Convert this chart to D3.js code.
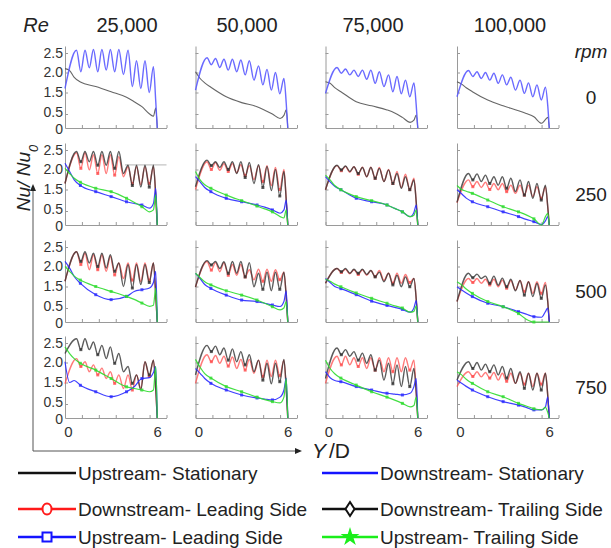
<!DOCTYPE html>
<html><head><meta charset="utf-8">
<script src="https://cdn.jsdelivr.net/npm/d3@7"></script>
<style>body{margin:0;background:#fff}svg{display:block;font-family:"Liberation Sans",Arial,sans-serif}</style>
</head><body>
<script>
// ---------- labels ----------
const reLabels = ["25,000", "50,000", "75,000", "100,000"];
const rpmLabels = ["0", "250", "500", "750"];
const yTickValues = [0, 0.5, 1.5, 2.0, 2.5];
const xTickValues = [0, 1.1, 2.2, 3.3, 4.4, 5.5, 6.6];
const xLabelValues = [0, 6];
const legendLabels = ["Upstream- Stationary", "Downstream- Stationary", "Downstream- Leading Side",
  "Downstream- Trailing Side", "Upstream- Leading Side", "Upstream- Trailing Side"];

// ---------- x positions (Y/D) ----------
// rib-roughened (wavy) series: start, 10 peaks with troughs between, drop at the end
const ribX = [0, 0.75, 1.03, 1.3, 1.58, 1.85, 2.13, 2.4, 2.68, 2.95, 3.23, 3.5, 3.8, 4.1, 4.38, 4.65, 4.93, 5.2, 5.48, 5.75, 5.9, 6.0];
// smooth series
const smoothX = [0, 0.3, 0.6, 1, 2, 3, 4, 4.5, 5, 5.5, 5.75, 5.9, 6.0];

// ---------- rpm 0 ----------  (one array per Re column)
const upStationary = [
  [2.1, 2.05, 1.88, 1.76, 1.65, 1.52, 1.28, 1.07, 0.84, 0.5, 0.42, 0.78, 0],
  [2.02, 1.85, 1.74, 1.63, 1.3, 1.03, 0.84, 0.68, 0.5, 0.34, 0.45, 0.69, 0],
  [1.77, 1.73, 1.62, 1.52, 1.07, 0.88, 0.69, 0.55, 0.38, 0.2, 0.28, 0.46, 0],
  [1.77, 1.71, 1.62, 1.52, 1.15, 0.88, 0.65, 0.52, 0.4, 0.17, 0.3, 0.38, 0]
];
const downStationary = [
  [1.6, 2.58, 2.02, 2.58, 2.12, 2.6, 2.02, 2.6, 2.06, 2.6, 2.02, 2.6, 1.95, 2.58, 1.65, 2.3, 1.6, 2.3, 1.5, 2.15, 1.1, 0],
  [1.56, 2.38, 2.2, 2.36, 2.13, 2.34, 2.06, 2.34, 2.02, 2.32, 1.94, 2.3, 1.81, 2.17, 1.69, 2.08, 1.56, 2.0, 1.44, 1.85, 1.0, 0],
  [1.46, 2.13, 1.98, 2.09, 1.94, 2.06, 1.9, 2.06, 1.83, 2.06, 1.73, 2.02, 1.65, 1.94, 1.52, 1.9, 1.44, 1.81, 1.3, 1.74, 0.9, 0],
  [1.3, 2.05, 1.9, 2.02, 1.85, 2.0, 1.81, 1.98, 1.73, 1.94, 1.69, 1.88, 1.56, 1.81, 1.46, 1.74, 1.3, 1.69, 1.15, 1.63, 0.9, 0]
];

// ---------- rpm 250 ----------
const downLead250 = [
  [1.65, 2.43, 2.03, 2.43, 1.99, 2.38, 1.9, 2.38, 1.9, 2.38, 1.86, 2.33, 1.82, 2.07, 1.65, 2.07, 1.62, 2.07, 1.65, 2.07, 1.2, 0],
  [1.5, 2.2, 2.0, 2.18, 1.98, 2.15, 1.95, 2.15, 1.92, 2.12, 1.85, 2.1, 1.75, 2.1, 1.7, 2.1, 1.6, 2.05, 1.5, 2.0, 1.0, 0],
  [1.49, 2.1, 1.97, 2.08, 1.93, 2.07, 1.88, 2.06, 1.82, 2.06, 1.78, 2.05, 1.7, 2.0, 1.65, 1.95, 1.55, 1.88, 1.5, 1.78, 0.9, 0],
  [0.88, 1.74, 1.57, 1.7, 1.55, 1.68, 1.5, 1.65, 1.49, 1.65, 1.4, 1.61, 1.32, 1.61, 1.24, 1.61, 1.17, 1.57, 1.09, 1.57, 0.7, 0]
];
const downTrail250 = [
  [1.65, 2.46, 2.2, 2.46, 2.2, 2.46, 2.11, 2.46, 2.11, 2.46, 2.03, 2.46, 1.9, 2.11, 1.6, 2.11, 1.56, 2.11, 1.56, 2.11, 1.2, 0],
  [1.57, 2.24, 2.1, 2.2, 2.05, 2.2, 2.0, 2.2, 1.9, 2.2, 1.8, 2.18, 1.65, 2.12, 1.55, 2.08, 1.45, 2.0, 1.2, 1.95, 1.0, 0],
  [1.49, 2.11, 1.99, 2.09, 1.95, 2.07, 1.9, 2.05, 1.82, 2.05, 1.78, 2.03, 1.7, 1.99, 1.65, 1.9, 1.53, 1.82, 1.49, 1.74, 0.9, 0],
  [0.9, 1.9, 1.74, 1.89, 1.7, 1.86, 1.65, 1.82, 1.61, 1.82, 1.53, 1.78, 1.4, 1.74, 1.24, 1.7, 1.09, 1.65, 1.01, 1.61, 0.7, 0]
];
const upLead250 = [
  [2.16, 1.95, 1.74, 1.6, 1.4, 1.17, 0.93, 0.85, 0.78, 0.63, 0.85, 1.53, 0],
  [1.82, 1.69, 1.55, 1.4, 1.09, 0.93, 0.78, 0.68, 0.55, 0.42, 0.55, 1.01, 0],
  [1.82, 1.69, 1.58, 1.49, 1.09, 0.93, 0.78, 0.62, 0.47, 0.3, 0.45, 0.78, 0],
  [1.49, 1.3, 1.1, 0.93, 0.7, 0.47, 0.3, 0.2, 0.12, 0.02, 0.15, 0.3, 0]
];
const upTrail250 = [
  [2.03, 1.9, 1.78, 1.68, 1.53, 1.4, 1.09, 0.9, 0.7, 0.47, 0.55, 1.25, 0],
  [1.95, 1.74, 1.62, 1.53, 1.24, 0.98, 0.73, 0.6, 0.47, 0.3, 0.25, 0.55, 0],
  [1.86, 1.74, 1.6, 1.49, 1.17, 0.98, 0.78, 0.62, 0.47, 0.3, 0.35, 0.55, 0],
  [1.6, 1.5, 1.42, 1.32, 1.01, 0.7, 0.47, 0.36, 0.22, 0.0, 0.3, 0.42, 0]
];
// stray grid fragment visible in the 25,000 / 250 rpm panel of the source figure
const gridFragment250 = {from: 3.9, to: 6.6, level: 2.12};

// ---------- rpm 500 ----------
const downLead500 = [
  [1.63, 2.38, 2.05, 2.34, 1.92, 2.3, 1.92, 2.3, 1.88, 2.26, 1.79, 2.09, 1.7, 2.09, 1.66, 2.09, 1.62, 2.09, 1.66, 2.09, 1.1, 0],
  [1.48, 2.13, 1.91, 2.1, 1.87, 2.1, 1.78, 2.05, 1.78, 2.05, 1.74, 1.92, 1.67, 1.93, 1.63, 1.93, 1.63, 1.92, 1.67, 1.86, 1.0, 0],
  [1.58, 1.95, 1.85, 1.93, 1.82, 1.92, 1.8, 1.92, 1.78, 1.9, 1.75, 1.9, 1.65, 1.83, 1.58, 1.83, 1.58, 1.8, 1.6, 1.7, 0.9, 0],
  [0.8, 1.7, 1.6, 1.7, 1.58, 1.68, 1.54, 1.68, 1.49, 1.66, 1.42, 1.65, 1.34, 1.65, 1.26, 1.62, 1.18, 1.62, 1.18, 1.6, 0.8, 0]
];
const downTrail500 = [
  [1.63, 2.38, 2.13, 2.38, 2.09, 2.34, 2.0, 2.34, 1.96, 2.3, 1.88, 2.09, 1.5, 2.05, 1.43, 2.05, 1.55, 2.05, 1.6, 2.09, 1.1, 0],
  [1.48, 2.15, 2.04, 2.13, 1.95, 2.12, 1.83, 2.13, 1.83, 2.13, 1.74, 2.1, 1.49, 1.83, 1.37, 1.86, 1.3, 1.86, 1.37, 1.86, 1.0, 0],
  [1.58, 1.95, 1.87, 1.95, 1.83, 1.93, 1.83, 1.93, 1.8, 1.9, 1.74, 1.86, 1.62, 1.83, 1.54, 1.78, 1.49, 1.74, 1.49, 1.7, 0.9, 0],
  [0.8, 1.83, 1.72, 1.81, 1.7, 1.76, 1.58, 1.76, 1.53, 1.71, 1.49, 1.68, 1.3, 1.65, 1.1, 1.62, 1.03, 1.58, 0.95, 1.54, 0.8, 0]
];
const upLead500 = [
  [2.13, 1.96, 1.75, 1.58, 1.12, 0.89, 1.04, 1.27, 1.35, 1.43, 1.6, 1.88, 0],
  [1.83, 1.7, 1.55, 1.41, 1.1, 0.87, 0.8, 0.72, 0.64, 0.57, 0.8, 1.3, 0],
  [1.7, 1.6, 1.5, 1.4, 1.12, 0.82, 0.62, 0.53, 0.45, 0.35, 0.5, 0.85, 0],
  [1.49, 1.34, 1.2, 1.03, 0.72, 0.56, 0.37, 0.28, 0.19, 0.17, 0.37, 0.5, 0]
];
const upTrail500 = [
  [2.0, 1.88, 1.76, 1.66, 1.5, 1.27, 1.04, 0.9, 0.73, 0.58, 0.63, 1.43, 0],
  [1.83, 1.72, 1.62, 1.54, 1.3, 1.1, 0.87, 0.72, 0.56, 0.43, 0.5, 0.8, 0],
  [1.68, 1.63, 1.56, 1.49, 1.2, 0.95, 0.72, 0.6, 0.5, 0.35, 0.38, 0.6, 0],
  [1.62, 1.54, 1.38, 1.18, 0.8, 0.56, 0.3, 0.1, 0, 0, 0, 0, 0]
];

// ---------- rpm 750 ----------
const downLead750 = [
  [1.44, 2.1, 1.9, 2.02, 1.77, 1.94, 1.69, 1.86, 1.6, 1.77, 1.46, 1.69, 1.22, 1.69, 1.15, 1.69, 1.22, 2.02, 1.65, 2.06, 1.2, 0],
  [1.46, 2.2, 2.02, 2.18, 1.98, 2.16, 1.91, 2.14, 1.85, 2.08, 1.81, 2.08, 1.73, 2.06, 1.65, 2.06, 1.65, 2.06, 1.67, 2.06, 1.2, 0],
  [1.46, 2.16, 1.94, 2.16, 1.94, 2.12, 1.9, 2.12, 1.85, 2.12, 1.81, 2.12, 1.77, 2.12, 1.77, 2.12, 1.77, 2.12, 1.81, 2.06, 1.0, 0],
  [1.31, 1.77, 1.65, 1.77, 1.64, 1.75, 1.61, 1.75, 1.56, 1.73, 1.53, 1.73, 1.46, 1.73, 1.42, 1.73, 1.31, 1.73, 1.42, 1.73, 0.9, 0]
];
const downTrail750 = [
  [2.23, 2.62, 2.33, 2.62, 2.33, 2.53, 2.2, 2.44, 2.1, 2.4, 1.98, 2.23, 1.77, 1.9, 1.46, 1.69, 1.15, 2.02, 1.69, 2.06, 1.2, 0],
  [1.69, 2.44, 2.28, 2.42, 2.2, 2.37, 2.06, 2.35, 2.02, 2.28, 1.94, 2.2, 1.77, 2.06, 1.56, 1.98, 1.44, 1.98, 1.52, 2.08, 1.2, 0],
  [1.6, 2.37, 2.2, 2.33, 2.16, 2.28, 2.06, 2.24, 1.98, 2.2, 1.81, 2.06, 1.56, 1.98, 1.44, 1.94, 1.31, 1.9, 1.31, 1.85, 1.0, 0],
  [1.56, 2.02, 1.85, 2.0, 1.81, 1.96, 1.77, 1.94, 1.69, 1.9, 1.61, 1.85, 1.46, 1.77, 1.23, 1.73, 1.15, 1.73, 1.15, 1.73, 0.9, 0]
];
const upLead750 = [
  [2.02, 1.5, 1.55, 1.37, 1.07, 0.84, 1.07, 1.3, 1.6, 1.62, 1.75, 1.9, 0],
  [1.85, 1.73, 1.6, 1.46, 1.15, 0.92, 0.78, 0.73, 0.69, 0.82, 1.15, 1.61, 0],
  [1.77, 1.62, 1.55, 1.52, 1.31, 1.15, 1.0, 0.96, 0.92, 1.0, 1.31, 1.6, 0],
  [1.56, 1.46, 1.32, 1.15, 0.84, 0.61, 0.46, 0.38, 0.29, 0.29, 0.4, 0.82, 0]
];
const upTrail750 = [
  [2.4, 2.23, 2.1, 1.98, 1.81, 1.6, 1.3, 1.22, 1.15, 1.07, 1.15, 1.9, 0],
  [2.08, 1.88, 1.72, 1.61, 1.31, 1.07, 0.82, 0.7, 0.61, 0.55, 0.82, 1.6, 0],
  [2.06, 1.85, 1.72, 1.61, 1.38, 1.07, 0.82, 0.68, 0.53, 0.4, 0.45, 0.82, 0],
  [1.77, 1.69, 1.58, 1.46, 1.07, 0.84, 0.53, 0.43, 0.33, 0.29, 0.38, 0.2, 0]
];

// ---------- layout & style ----------
const W = 611, H = 548;
const colLeft = [65, 195.5, 325.5, 457];
const panelWidth = 101.5;
const rowBottom = [128, 225, 322, 418];
const yBreaks = [0, 0.5, 1.5, 2.0, 2.5, 2.7];
const yOffsets = [0, 14, 35.5, 55.5, 75, 82];
const headerX = [127, 247, 373, 510];
const FONT = '"Liberation Sans",Arial,sans-serif';

const styles = {
  stat_up:   {color: "#555", width: 1.1, opacity: 0.9},
  stat_down: {color: "#5a5aff", width: 1.4, opacity: 0.9},
  lead_down: {color: "#ff4d4d", width: 1.4, opacity: 0.75, marker: "circle"},
  trail_down:{color: "#333", width: 1.4, opacity: 0.8, marker: "diamond"},
  lead_up:   {color: "#2a2aff", width: 1.2, opacity: 0.9, marker: "square"},
  trail_up:  {color: "#2fdc2f", width: 1.2, opacity: 0.9, marker: "star"}
};

const rows = [
  c => [{xs: smoothX, v: upStationary[c], s: "stat_up"}, {xs: ribX, v: downStationary[c], s: "stat_down"}],
  c => [{xs: ribX, v: downLead250[c], s: "lead_down"}, {xs: ribX, v: downTrail250[c], s: "trail_down"},
        {xs: smoothX, v: upLead250[c], s: "lead_up"}, {xs: smoothX, v: upTrail250[c], s: "trail_up"}],
  c => [{xs: ribX, v: downLead500[c], s: "lead_down"}, {xs: ribX, v: downTrail500[c], s: "trail_down"},
        {xs: smoothX, v: upLead500[c], s: "lead_up"}, {xs: smoothX, v: upTrail500[c], s: "trail_up"}],
  c => [{xs: ribX, v: downLead750[c], s: "lead_down"}, {xs: ribX, v: downTrail750[c], s: "trail_down"},
        {xs: smoothX, v: upLead750[c], s: "lead_up"}, {xs: smoothX, v: upTrail750[c], s: "trail_up"}]
];

const svg = d3.select("body").append("svg").attr("width", W).attr("height", H);
const textCol = "#222";
const axisCol = "#9a9a9a";

rows.forEach((seriesFor, r) => {
  colLeft.forEach((x0, c) => {
    const x = d3.scaleLinear().domain([0, 6.6]).range([x0, x0 + panelWidth]);
    const y = d3.scaleLinear().domain(yBreaks).range(yOffsets.map(o => rowBottom[r] - o));
    const g = svg.append("g");

    if (r === 1 && c === 0) {
      g.append("line").attr("x1", x(gridFragment250.from)).attr("x2", x(gridFragment250.to))
        .attr("y1", y(gridFragment250.level)).attr("y2", y(gridFragment250.level))
        .attr("stroke", "#c4c4c4").attr("stroke-width", 1.2);
    }

    // axes (inward ticks)
    const ya = g.append("g").attr("transform", `translate(${x0},0)`)
      .call(d3.axisRight(y).tickValues(yTickValues.slice(1)).tickSize(3).tickSizeOuter(0).tickFormat(""));
    const xa = g.append("g").attr("transform", `translate(0,${rowBottom[r]})`)
      .call(d3.axisTop(x).tickValues(xTickValues).tickSize(3).tickSizeOuter(0).tickFormat(""));
    [ya, xa].forEach(a => { a.selectAll("path,line").attr("stroke", axisCol); });

    if (c === 0) {
      const yl = g.append("g").attr("transform", `translate(${x0 - 2},0)`)
        .call(d3.axisLeft(y).tickValues(yTickValues).tickSize(0).tickPadding(0)
          .tickFormat(d => d === 0 ? "0" : d3.format(".1f")(d)));
      yl.select(".domain").remove();
      yl.selectAll("text").attr("fill", "#333").style("font-size", "14px").style("font-family", FONT)
        .attr("y", d => d === 0 ? 1.5 : (d === 0.5 ? -1.5 : 0));
    }
    if (r === rows.length - 1) {
      const xl = g.append("g").attr("transform", `translate(0,${rowBottom[r]})`)
        .call(d3.axisBottom(x).tickValues(xLabelValues).tickSize(0).tickPadding(8).tickFormat(d3.format("d")));
      xl.select(".domain").remove();
      xl.selectAll("text").attr("fill", "#333").style("font-size", "15px").style("font-family", FONT)
        .attr("dx", d => d === 0 ? 3 : 0);
    }

    const line = d3.line().x(d => x(d[0])).y(d => y(d[1])).curve(d3.curveMonotoneX);
    seriesFor(c).forEach(sr => {
      const st = styles[sr.s];
      const pts = sr.xs.map((xv, i) => [xv, sr.v[i]]);
      g.append("path").datum(pts).attr("d", line).attr("fill", "none")
        .attr("stroke", st.color).attr("stroke-width", st.width).attr("stroke-opacity", st.opacity)
        .attr("stroke-linejoin", "round");
      if (st.marker) {
        const idx = sr.xs === ribX ? [2, 6, 10, 14, 18] : [3, 4, 5, 6, 8];
        g.selectAll(null).data(idx.map(i => pts[i])).join("rect")
          .attr("x", d => x(d[0]) - 1.5).attr("y", d => y(d[1]) - 1.5)
          .attr("width", 3).attr("height", 3).attr("fill", st.color).attr("opacity", 0.8);
      }
    });
  });
});

// ---------- header texts ----------
svg.append("text").attr("x", 36).attr("y", 32).attr("text-anchor", "middle")
  .style("font-size", "20px").style("font-style", "italic").attr("fill", textCol).text("Re");
svg.selectAll(null).data(reLabels).join("text")
  .attr("x", (d, i) => headerX[i]).attr("y", 32).attr("text-anchor", "middle")
  .style("font-size", "20px").attr("fill", textCol).text(d => d);
svg.append("text").attr("x", 591).attr("y", 58).attr("text-anchor", "middle")
  .style("font-size", "19px").style("font-style", "italic").attr("fill", textCol).text("rpm");
svg.selectAll(null).data(rpmLabels).join("text")
  .attr("x", 591).attr("y", (d, i) => rowBottom[i] - 31 + 7).attr("text-anchor", "middle")
  .style("font-size", "19px").attr("fill", textCol).text(d => d);

// ---------- axis titles & arrows ----------
const yt = svg.append("text").attr("transform", "translate(30,178) rotate(-90)").attr("text-anchor", "middle")
  .style("font-size", "19px").style("font-style", "italic").attr("fill", textCol);
yt.append("tspan").text("Nu/ Nu");
yt.append("tspan").attr("baseline-shift", "sub").style("font-size", "13px").text("0");

svg.append("path").attr("d", "M33,451V190M33,451H296").attr("stroke", "#555").attr("stroke-width", 1).attr("fill", "none");
svg.append("path").attr("d", "M33,184l-3,7h6z").attr("fill", "#222");
svg.append("path").attr("d", "M302,451l-7,-3v6z").attr("fill", "#222");
const yd = svg.append("text").attr("x", 312).attr("y", 458).style("font-size", "21px").attr("fill", textCol);
yd.append("tspan").style("font-style", "italic").text("Y");
yd.append("tspan").attr("dx", 3).text("/D");

// ---------- legend ----------
const legendRowY = [473, 509, 537];
const legendLineX = [[18, 76], [322, 378]];
const legendColors = ["#111", "#1414ff", "#ff1a1a", "#111", "#1414ff", "#1aee1a"];
const legendSymbols = [null, null, "circle", "diamond", "square", "star"];
legendLabels.forEach((lab, i) => {
  const row = Math.floor(i / 2), col = i % 2;
  const ly = legendRowY[row], [lx0, lx1] = legendLineX[col];
  const g = svg.append("g");
  g.append("line").attr("x1", lx0).attr("x2", lx1).attr("y1", ly).attr("y2", ly)
    .attr("stroke", legendColors[i]).attr("stroke-width", 2.5);
  const cx = (lx0 + lx1) / 2;
  const sym = legendSymbols[i];
  if (sym === "circle") {
    g.append("ellipse").attr("cx", cx).attr("cy", ly).attr("rx", 4.5).attr("ry", 5.5)
      .attr("fill", "#fff").attr("stroke", legendColors[i]).attr("stroke-width", 2);
  } else if (sym === "diamond") {
    g.append("path").attr("d", `M${cx},${ly - 7}L${cx + 4.5},${ly}L${cx},${ly + 7}L${cx - 4.5},${ly}Z`)
      .attr("fill", "#fff").attr("stroke", legendColors[i]).attr("stroke-width", 2);
  } else if (sym === "square") {
    g.append("rect").attr("x", cx - 4.5).attr("y", ly - 4.5).attr("width", 9).attr("height", 9)
      .attr("fill", "#fff").attr("stroke", legendColors[i]).attr("stroke-width", 2);
  } else if (sym === "star") {
    g.append("path").attr("d", d3.symbol(d3.symbolStar, 110)()).attr("transform", `translate(${cx},${ly})`)
      .attr("fill", legendColors[i]);
  }
  g.append("text").attr("x", lx1 + 2).attr("y", ly + 7).style("font-size", "19px").attr("fill", textCol).text(lab);
});
</script>
</body></html>
